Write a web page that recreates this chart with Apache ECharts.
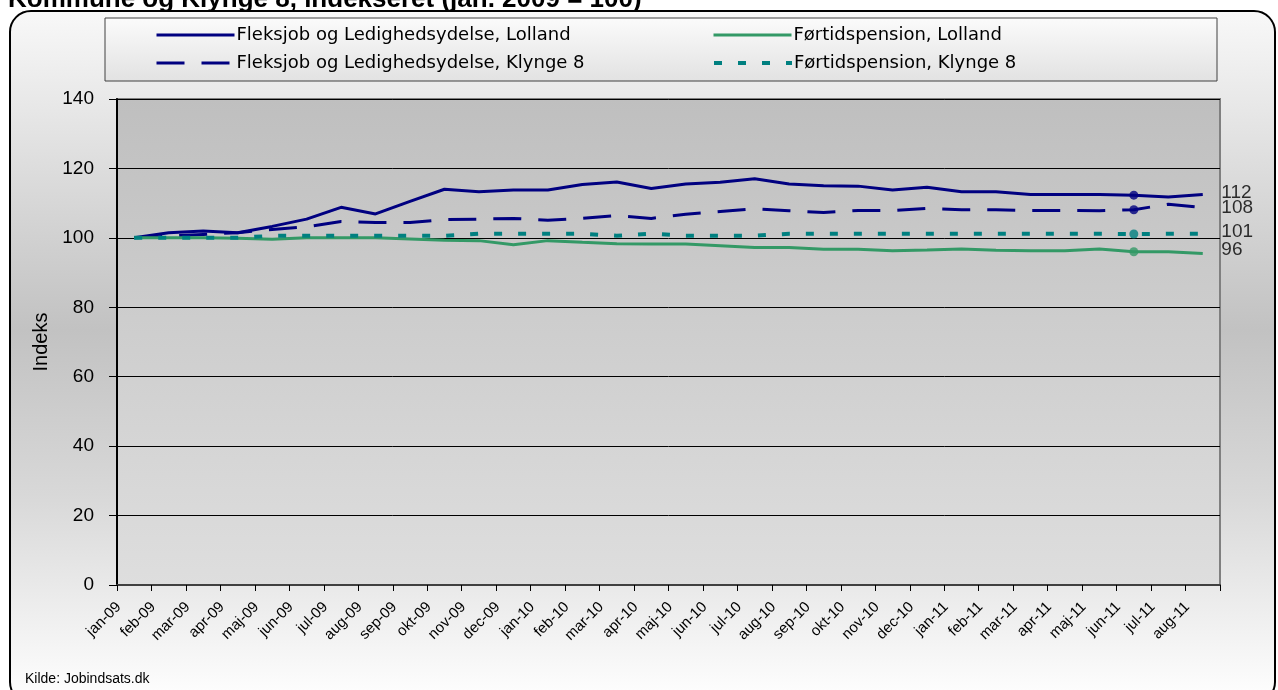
<!DOCTYPE html>
<html>
<head>
<meta charset="utf-8">
<script src="https://cdn.jsdelivr.net/npm/echarts@6/dist/echarts.min.js"></script>
<style>
  html, body { margin: 0; padding: 0; background: #ffffff; }
  #frame {
    position: absolute; left: 9px; top: 10px; width: 1263px; height: 690px;
    border: 2px solid #000; border-radius: 22px;
    background: linear-gradient(to bottom, #f8f8f8 0%, #d4d4d4 30%, #c2c2c2 46%, #d8d8d8 70%, #ffffff 100%);
  }
  #chart { position: absolute; left: 0; top: 0; width: 1278px; height: 690px; }
</style>
</head>
<body>
<div id="frame"></div>
<div id="chart"></div>
<script>
var months = ['jan-09', 'feb-09', 'mar-09', 'apr-09', 'maj-09', 'jun-09', 'jul-09', 'aug-09', 'sep-09', 'okt-09', 'nov-09', 'dec-09',
  'jan-10', 'feb-10', 'mar-10', 'apr-10', 'maj-10', 'jun-10', 'jul-10', 'aug-10', 'sep-10', 'okt-10', 'nov-10', 'dec-10',
  'jan-11', 'feb-11', 'mar-11', 'apr-11', 'maj-11', 'jun-11', 'jul-11', 'aug-11'];

var fleksLolland = [100, 101.5, 102, 101.5, 103.3, 105.4, 108.8, 106.9, 110.5, 114.0, 113.3, 113.8, 113.8, 115.4, 116.1, 114.2,
  115.5, 116.0, 117.0, 115.5, 115.0, 114.9, 113.8, 114.6, 113.3, 113.3, 112.5, 112.5, 112.5, 112.3, 111.8, 112.5];
var fleksKlynge = [100, 100.5, 101, 101.5, 102.4, 103.2, 104.7, 104.4, 104.4, 105.3, 105.4, 105.6, 105.1, 105.6, 106.4, 105.6,
  106.8, 107.6, 108.4, 107.8, 107.3, 107.9, 107.9, 108.5, 108.1, 108.1, 107.9, 107.9, 107.8, 108.1, 109.7, 108.7];
var fortidLolland = [100, 100, 100, 99.9, 99.6, 100, 100, 100, 99.7, 99.3, 99.2, 98.0, 99.2, 98.7, 98.3, 98.2,
  98.2, 97.7, 97.2, 97.2, 96.7, 96.7, 96.3, 96.5, 96.8, 96.4, 96.3, 96.3, 96.8, 96.0, 96.0, 95.5];
var fortidKlynge = [100, 100, 100, 100, 100.6, 100.6, 100.6, 100.6, 100.6, 100.6, 101.2, 101.2, 101.2, 101.2, 100.6, 101.2,
  100.6, 100.6, 100.6, 101.2, 101.2, 101.2, 101.2, 101.2, 101.2, 101.2, 101.2, 101.2, 101.2, 101.1, 101.2, 101.2];

var yTicks = [0, 20, 40, 60, 80, 100, 120, 140];
var markIndex = 29; // jun-11 carries the marked points

var names = [
  'Fleksjob og Ledighedsydelse, Lolland',
  'Fleksjob og Ledighedsydelse, Klynge 8',
  'Førtidspension, Lolland',
  'Førtidspension, Klynge 8'
];
var colors = ['#000080', '#000080', '#339966', '#008080'];
var dashes = ['solid', [28, 17], 'solid', [8, 16]];
var widths = [3, 3, 3, 4];
var seriesData = [fleksLolland, fleksKlynge, fortidLolland, fortidKlynge];

var font = '"Liberation Sans", Arial, sans-serif';
var chart = echarts.init(document.getElementById('chart'));

function lineSeries(i) {
  return {
    name: names[i],
    type: 'line',
    symbol: 'none',
    data: seriesData[i],
    lineStyle: { color: colors[i], width: widths[i], type: dashes[i] },
    itemStyle: { color: colors[i] },
    z: 3
  };
}

var markers = seriesData.map(function (values, i) {
  return {
    value: [months[markIndex], values[markIndex]],
    itemStyle: { color: colors[i] }
  };
});

function legendAt(i, left, top) {
  return {
    data: [names[i]],
    left: left,
    top: top,
    padding: 0,
    itemWidth: 78,
    itemHeight: 14,
    itemGap: 0,
    selectedMode: false,
    itemStyle: { opacity: 0 },
    lineStyle: { color: colors[i], width: widths[i], type: dashes[i] },
    textStyle: { color: '#000', fontSize: 18, fontFamily: '"DejaVu Sans", sans-serif', padding: [0, 0, 0, -3] }
  };
}

var option = {
  animation: false,
  title: [
    {
      text: 'Kommune og Klynge 8, indekseret (jan. 2009 = 100)',
      left: 3,
      top: -18,
      textStyle: { fontSize: 26, fontWeight: 'bold', color: '#000', fontFamily: font }
    },
    {
      text: 'Kilde: Jobindsats.dk',
      left: 20,
      top: 667,
      textStyle: { fontSize: 14, fontWeight: 'normal', color: '#000', fontFamily: font }
    }
  ],
  graphic: [
    {
      type: 'rect',
      shape: { x: 105, y: 18, width: 1112, height: 63 },
      style: {
        fill: new echarts.graphic.LinearGradient(0, 0, 0, 1, [
          { offset: 0, color: '#fbfbfb' },
          { offset: 1, color: '#e2e2e2' }
        ]),
        stroke: '#404040',
        lineWidth: 1
      },
      z: -1
    }
  ],
  legend: [
    legendAt(0, 155, 26),
    legendAt(2, 712, 26),
    legendAt(1, 155, 54),
    legendAt(3, 712, 54)
  ],
  grid: {
    left: 117,
    right: 58,
    top: 99,
    bottom: 105,
    show: true,
    borderColor: '#808080',
    borderWidth: 2,
    backgroundColor: new echarts.graphic.LinearGradient(0, 0, 0, 1, [
      { offset: 0, color: '#bfbfbf' },
      { offset: 1, color: '#dedede' }
    ])
  },
  xAxis: {
    type: 'category',
    data: months,
    boundaryGap: true,
    axisLine: { lineStyle: { color: '#404040', width: 2 } },
    axisTick: { show: true, length: 6, lineStyle: { color: '#000' } },
    axisLabel: {
      interval: 0,
      rotate: 45,
      color: '#000',
      fontSize: 15,
      fontFamily: font,
      margin: 4,
      padding: [0, 22, 0, 0]
    }
  },
  yAxis: {
    type: 'value',
    min: yTicks[0],
    max: yTicks[yTicks.length - 1],
    interval: 20,
    name: 'Indeks',
    nameLocation: 'middle',
    nameGap: 63,
    nameTextStyle: { color: '#000', fontSize: 20, fontFamily: font },
    axisLine: { show: true, lineStyle: { color: '#000', width: 2 } },
    axisTick: { show: true, length: 8, lineStyle: { color: '#000' } },
    axisLabel: { color: '#000', fontSize: 19, fontFamily: font, margin: 23 },
    splitLine: { show: true, lineStyle: { color: '#000', width: 1 } }
  },
  series: [
    lineSeries(0),
    lineSeries(1),
    lineSeries(2),
    lineSeries(3),
    {
      name: 'markers',
      type: 'scatter',
      symbol: 'circle',
      symbolSize: 9,
      data: markers,
      z: 5,
      label: {
        show: true,
        position: 'right',
        distance: 0,
        offset: [83, -2],
        color: '#000',
        fontSize: 19,
        fontFamily: font,
        formatter: function (p) { return Math.round(p.value[1]); }
      }
    }
  ]
};

chart.setOption(option);
</script>
</body>
</html>
